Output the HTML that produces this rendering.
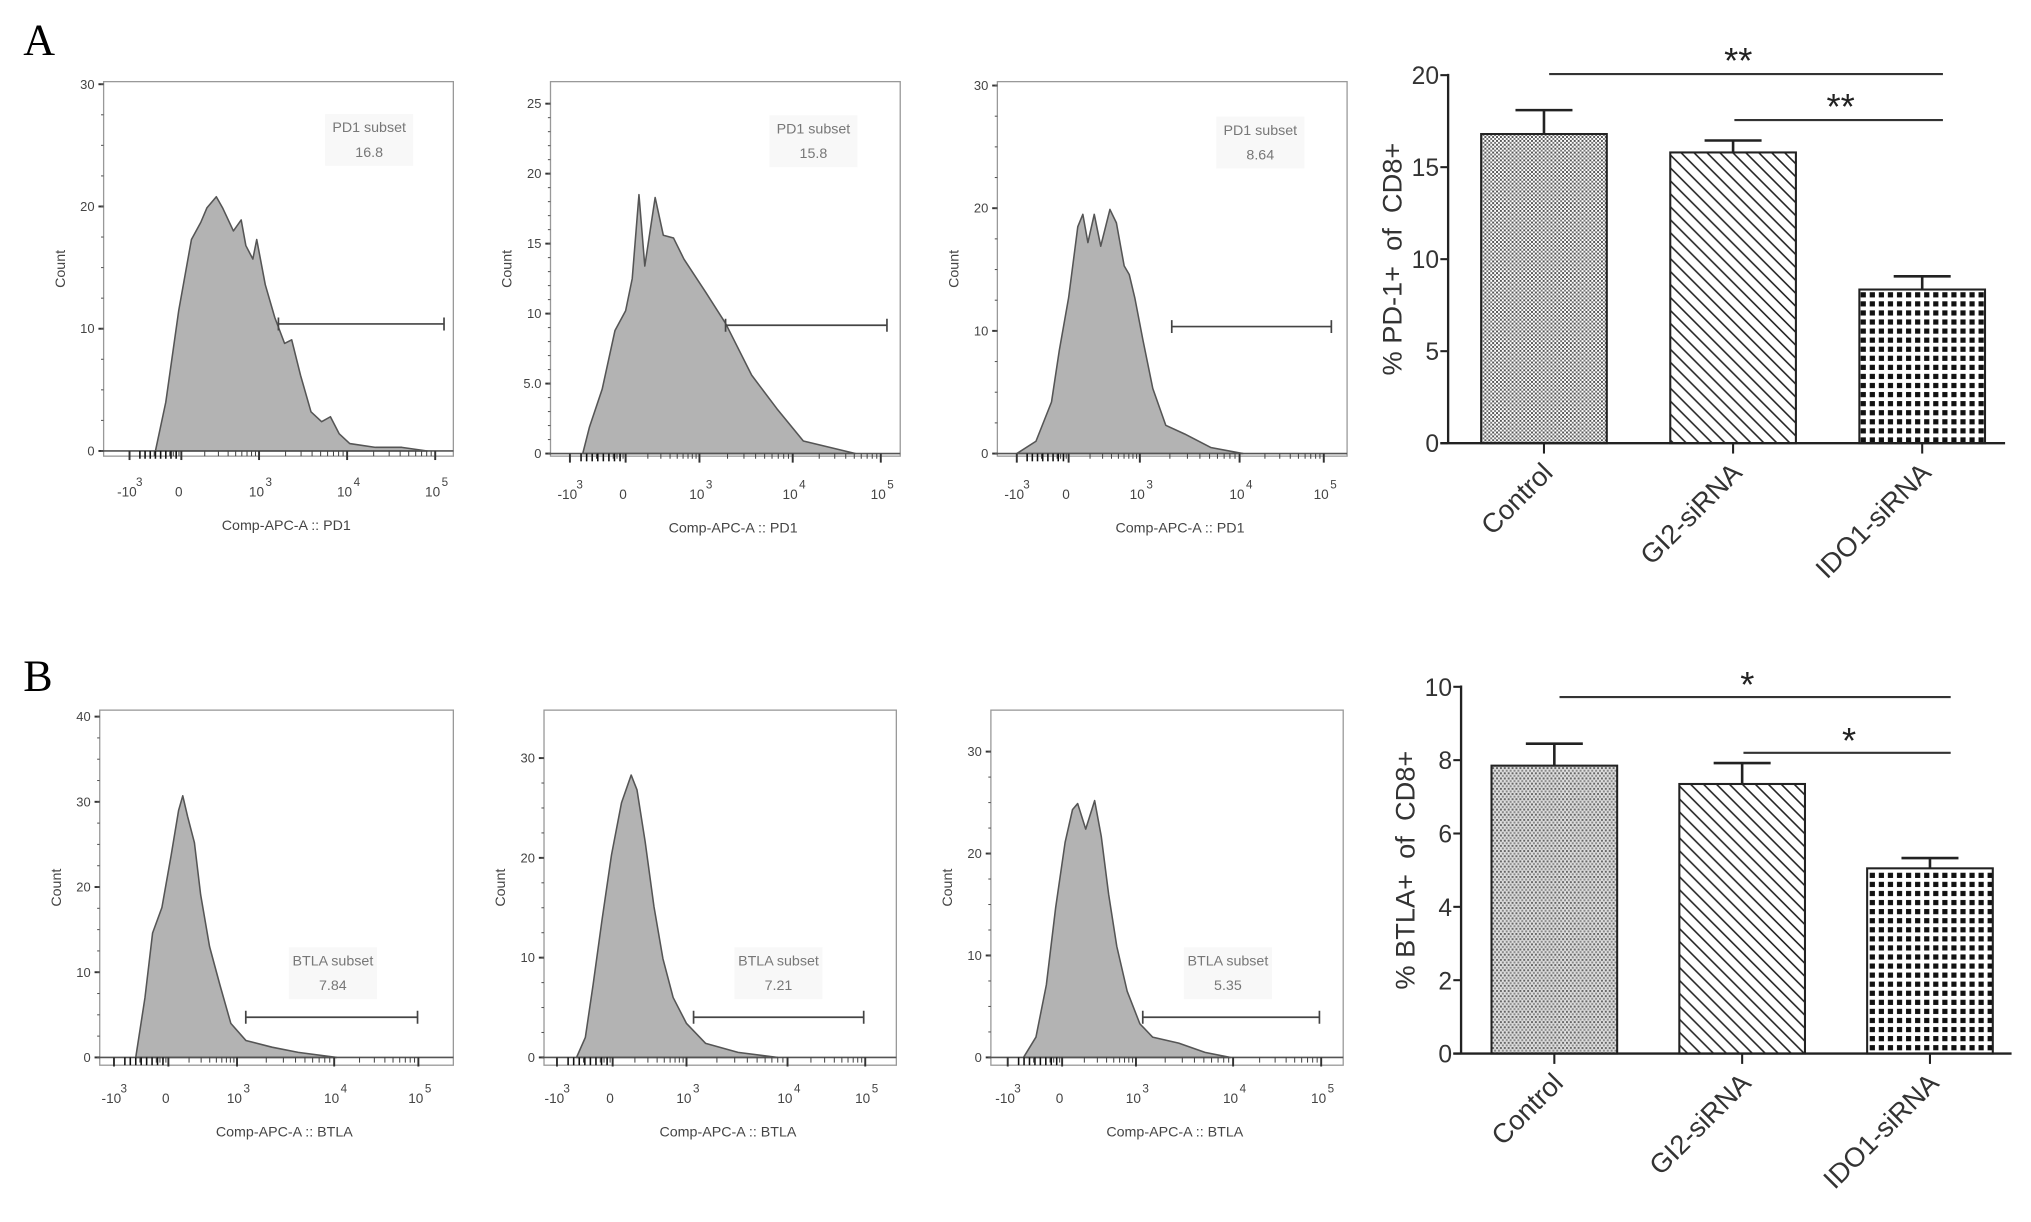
<!DOCTYPE html>
<html><head><meta charset="utf-8">
<style>
html,body{margin:0;padding:0;background:#fff;}
svg{display:block;}
text{font-family:"Liberation Sans",Arial,sans-serif;}
</style></head>
<body>
<svg id="fig" xmlns="http://www.w3.org/2000/svg" width="2031" height="1222" viewBox="0 0 1568 943" preserveAspectRatio="none">
<defs>
<pattern id="patFine" width="3" height="3" patternUnits="userSpaceOnUse"><rect width="3" height="3" fill="#fff"/><rect width="1.5" height="1.5" fill="#555"/><rect x="1.5" y="1.5" width="1.5" height="1.5" fill="#777"/></pattern>
<pattern id="patDiag" width="10" height="10" patternUnits="userSpaceOnUse"><rect width="10" height="10" fill="#fff"/><path d="M-2,-2 L12,12 M-2,8 L2,12 M8,-2 L12,2" stroke="#222" stroke-width="1.2"/></pattern>
<pattern id="patDots" width="7" height="7" patternUnits="userSpaceOnUse"><rect width="7" height="7" fill="#fff"/><rect x="1.5" y="1.5" width="4" height="4" fill="#111"/></pattern>
<pattern id="patStripe" width="3" height="4" patternUnits="userSpaceOnUse"><rect width="3" height="4" fill="#ddd"/><rect width="1.5" height="1.5" fill="#666"/><rect x="1.5" y="2" width="1.5" height="1.5" fill="#888"/></pattern>
</defs>
<text x="18" y="42" font-size="34" style="font-family:'Liberation Serif',serif">A</text>
<text x="18" y="533" font-size="34" style="font-family:'Liberation Serif',serif">B</text>
</svg>
<script>
// ---------- histogram data (u: axis units, -1=-10^3, 0=0, 1=10^3, 2=10^4, 3=10^5) ----------
const p1U=[-0.5,-0.3,-0.05,0.13,0.25,0.33,0.45,0.53,0.67,0.77,0.83,0.92,0.97,1.07,1.18,1.29,1.37,1.47,1.59,1.71,1.81,1.91,2.03,2.32,2.62,2.91];
const p1C=[0,4,11.5,17.3,18.7,19.9,20.8,19.9,18,18.9,16.8,15.7,17.3,13.6,10.9,8.8,9.1,6.2,3.2,2.4,2.8,1.4,0.6,0.3,0.3,0];
const p2U=[-0.77,-0.65,-0.42,-0.19,0,0.09,0.18,0.26,0.4,0.51,0.65,0.79,1.07,1.28,1.56,1.83,2.12,2.71];
const p2C=[0,1.9,4.6,8.8,10.2,12.5,18.5,13.4,18.3,15.6,15.4,13.9,11.5,9.3,5.6,3.2,0.9,0];
const p3U=[-1,-0.63,-0.33,-0.18,0,0.13,0.2,0.27,0.36,0.45,0.58,0.67,0.78,0.85,0.93,1.03,1.13,1.26,1.45,1.71,2.04];
const p3C=[0,1,4.2,8.4,12.7,18.5,19.5,17.2,19.5,16.9,19.9,18.8,15.3,14.6,12.7,9.3,5.3,2.3,1.6,0.5,0];
const b1U=[-0.6,-0.43,-0.29,-0.12,0.04,0.15,0.21,0.28,0.38,0.47,0.6,0.75,0.91,1.09,1.36,1.63,2.03];
const b1C=[0,7,14.6,17.6,23.7,29,30.7,28.3,25.2,19.1,13,8.5,4,2,1.2,0.6,0];
const b2U=[-0.65,-0.49,-0.35,-0.19,-0.02,0.12,0.25,0.33,0.44,0.56,0.68,0.82,1,1.19,1.51,1.9];
const b2C=[0,2,7.3,13.8,20.3,25.5,28.3,26.8,21.6,15.1,9.9,6,3.4,1.4,0.5,0];
const b3U=[-0.71,-0.48,-0.29,-0.12,0.04,0.14,0.21,0.32,0.44,0.53,0.63,0.74,0.88,1.04,1.17,1.44,1.71,1.97];
const b3C=[0,2,7.1,14.7,21.1,24.3,24.9,22.4,25.2,21.7,16,10.9,6.5,3.3,2,1.4,0.5,0];
const gateLabels=["PD1 subset","PD1 subset","PD1 subset","BTLA subset","BTLA subset","BTLA subset"];
const gateValues=["16.8","15.8","8.64","7.84","7.21","5.35"];
const gateStartU=[1.22,1.28,1.32,1.09,1.07,1.07];
const gateEndU=[3.1,3.07,3.09,2.99,2.98,2.98];
const yTicksP1=[0,10,20,30], yLabP1=["0","10","20","30"];
const yTicksP2=[0,5,10,15,20,25], yLabP2=["0","5.0","10","15","20","25"];
const yTicksB1=[0,10,20,30,40], yLabB1=["0","10","20","30","40"];
const yTicksB23=[0,10,20,30], yLabB23=["0","10","20","30"];
const xTickU=[-1,0,1,2,3];
const xTickBase=["-10","0","10","10","10"], xTickExp=["3","","3","4","5"];

// ---------- bar data ----------
const categories=["Control","GI2-siRNA","IDO1-siRNA"];
const pdValues=[16.8,15.8,8.35], pdErr=[1.3,0.65,0.72];
const btValues=[7.85,7.35,5.05], btErr=[0.6,0.57,0.28];
const pdTicks=[0,5,10,15,20], btTicks=[0,2,4,6,8,10];
const pdSig=[{a:0,b:2,v:20.06,lab:"**"},{a:1,b:2,v:17.56,lab:"**"}];
const btSig=[{a:0,b:2,v:9.72,lab:"*"},{a:1,b:2,v:8.2,lab:"*"}];

const svg=document.getElementById('fig');
const NS="http://www.w3.org/2000/svg";
function mk(tag,attrs,parent){const e=document.createElementNS(NS,tag);for(const k in attrs)e.setAttribute(k,attrs[k]);(parent||svg).appendChild(e);return e;}

function hist(o,idx){
  const g=mk('g',{});
  
  
  const ys=v=>o.y0+(o.yTop-o.y0)*v/o.yMax;
  const xs=u=>{if(u<=-1)return o.xt[0]+(u+1)*(o.xt[1]-o.xt[0]);for(let i=0;i<4;i++){if(u<=i)return o.xt[i]+(u-(i-1))*(o.xt[i+1]-o.xt[i]);}return o.xt[4]+(u-3)*(o.xt[4]-o.xt[3]);};
  const box=mk('rect',{x:o.bx0,y:o.by0,width:o.bx1-o.bx0,height:o.by1-o.by0,fill:'none',stroke:'#999','stroke-width':1},g);
  
  let d=`M${xs(o.U[0])},${o.y0}`;
  o.U.forEach((u,i)=>{d+=` L${xs(u).toFixed(1)},${ys(o.C[i]).toFixed(1)}`;});
  d+=` L${xs(o.U[o.U.length-1])},${o.y0} Z`;
  const c=mk('path',{d:d,fill:'#b3b3b3',stroke:'#555','stroke-width':1.2,'stroke-linejoin':'round'},g);
  
  mk('line',{x1:o.bx0,x2:o.bx1,y1:o.y0,y2:o.y0,stroke:'#555','stroke-width':1.3},g);
  o.yt.forEach((v,i)=>{const y=ys(v);mk('line',{x1:o.bx0-4,x2:o.bx0,y1:y,y2:y,stroke:'#333','stroke-width':1.5},g);
    const t=mk('text',{x:o.bx0-7,y:y+3.5,'font-size':10,'text-anchor':'end',fill:'#444'},g);t.textContent=o.yl[i];
    });
  for(let v=0;v<=o.yMax;v+=o.yMinor){const y=ys(v);if(y<o.by0)break;mk('line',{x1:o.bx0-2,x2:o.bx0,y1:y,y2:y,stroke:'#555','stroke-width':0.8},g);}
  const ct=mk('text',{x:0,y:0,'font-size':11,'text-anchor':'middle',fill:'#444',transform:`translate(${o.bx0-30},${(o.by0+o.by1)/2}) rotate(-90)`},g);ct.textContent='Count';
  
  xTickU.forEach((u,i)=>{const x=xs(u);mk('line',{x1:x,x2:x,y1:o.y0,y2:o.y0+7,stroke:'#333','stroke-width':1.5},g);
    const t=mk('text',{x:x-2,y:o.y0+35,'font-size':10.5,'text-anchor':'middle',fill:'#444'},g);t.textContent=xTickBase[i];
    
    if(xTickExp[i]){const e=mk('text',{x:x+5,y:o.y0+27,'font-size':9,fill:'#444'},g);e.textContent=xTickExp[i];}});
  for(let u=-1;u<3;u++){for(let k=2;k<10;k++){const x=xs(u+Math.log10(k));mk('line',{x1:x,x2:x,y1:o.y0,y2:o.y0+4,stroke:'#444','stroke-width':0.8},g);}}
  for(let k=1;k<=8;k++){const x=xs(-k*0.1);mk('line',{x1:x,x2:x,y1:o.y0,y2:o.y0+6,stroke:'#111','stroke-width':1.2},g);}
  const xt=mk('text',{x:(o.bx0+o.bx1)/2+6,y:o.y0+61,'font-size':11,'text-anchor':'middle',fill:'#444'},g);xt.textContent=o.xtitle;
  
  const gx0=xs(gateStartU[idx]),gx1=xs(gateEndU[idx]),gy=o.gy;
  const gl=mk('path',{d:`M${gx0},${gy} L${gx1},${gy} M${gx0},${gy-5} L${gx0},${gy+5} M${gx1},${gy-5} L${gx1},${gy+5}`,stroke:'#444','stroke-width':1.3,fill:'none'},g);
  
  mk('rect',{x:o.lx-34,y:o.ly-14,width:68,height:40,fill:'#f8f8f8'},g);
  const l1=mk('text',{x:o.lx,y:o.ly,'font-size':11,'text-anchor':'middle',fill:'#777'},g);l1.textContent=gateLabels[idx];
  
  const l2=mk('text',{x:o.lx,y:o.ly+19,'font-size':11,'text-anchor':'middle',fill:'#777'},g);l2.textContent=gateValues[idx];
  
}

hist({name:'pd1-histogram-control',bx0:80,bx1:350,by0:63,by1:352,y0:348,yTop:65,yMax:30,yt:yTicksP1,yl:yLabP1,yMinor:2.5,U:p1U,C:p1C,xt:[100,140,200,268,336],xtitle:'Comp-APC-A :: PD1',gy:250,lx:285,ly:102},0);
hist({name:'pd1-histogram-gi2',bx0:425,bx1:695,by0:63,by1:352,y0:350,yTop:80,yMax:25,yt:yTicksP2,yl:yLabP2,yMinor:1,U:p2U,C:p2C,xt:[440,483,540,612,680],xtitle:'Comp-APC-A :: PD1',gy:251,lx:628,ly:103},1);
hist({name:'pd1-histogram-ido1',bx0:770,bx1:1040,by0:63,by1:352,y0:350,yTop:66,yMax:30,yt:yTicksP1,yl:yLabP1,yMinor:2.5,U:p3U,C:p3C,xt:[785,825,880,957,1022],xtitle:'Comp-APC-A :: PD1',gy:252,lx:973,ly:104},2);
hist({name:'btla-histogram-control',bx0:77,bx1:350,by0:548,by1:822,y0:816,yTop:553,yMax:40,yt:yTicksB1,yl:yLabB1,yMinor:2.5,U:b1U,C:b1C,xt:[88,130,183,258,323],xtitle:'Comp-APC-A :: BTLA',gy:785,lx:257,ly:745},3);
hist({name:'btla-histogram-gi2',bx0:420,bx1:692,by0:548,by1:822,y0:816,yTop:585,yMax:30,yt:yTicksB23,yl:yLabB23,yMinor:2.5,U:b2U,C:b2C,xt:[430,473,530,608,668],xtitle:'Comp-APC-A :: BTLA',gy:785,lx:601,ly:745},4);
hist({name:'btla-histogram-ido1',bx0:765,bx1:1037,by0:548,by1:822,y0:816,yTop:580,yMax:30,yt:yTicksB23,yl:yLabB23,yMinor:2.5,U:b3U,C:b3C,xt:[778,820,877,952,1020],xtitle:'Comp-APC-A :: BTLA',gy:785,lx:948,ly:745},5);

function bars(o){
  const g=mk('g',{});
  
  
  const ys=v=>o.y0+(o.yTop-o.y0)*v/o.yMax;
  const bw=o.bw;
  o.ticks.forEach(v=>{const y=ys(v);mk('line',{x1:o.ax-6,x2:o.ax,y1:y,y2:y,stroke:'#222','stroke-width':1.6},g);
    const t=mk('text',{x:o.ax-7,y:y+7,'font-size':19,'text-anchor':'end',fill:'#333'},g);t.textContent=String(v);
    });
  o.vals.forEach((v,i)=>{
    const cx=o.cx[i];
    const r=mk('rect',{x:cx-bw/2,y:ys(v),width:bw,height:o.y0-ys(v),fill:`url(#${o.pats[i]})`,stroke:'#222','stroke-width':1.6},g);
    
    const e=mk('path',{d:`M${cx},${ys(v)} L${cx},${ys(v+o.err[i])} M${cx-22},${ys(v+o.err[i])} L${cx+22},${ys(v+o.err[i])}`,stroke:'#222','stroke-width':2,fill:'none'},g);
    
    mk('line',{x1:cx,x2:cx,y1:o.y0,y2:o.y0+8,stroke:'#222','stroke-width':1.6},g);
    const t=mk('text',{x:cx+8,y:o.y0+24,'font-size':21,'text-anchor':'end',fill:'#333',transform:`rotate(-45 ${cx+8} ${o.y0+24})`},g);t.textContent=categories[i];
    
  });
  mk('line',{x1:o.ax,x2:o.ax,y1:o.yTop-1,y2:o.y0,stroke:'#222','stroke-width':1.8},g);
  mk('line',{x1:o.ax-6,x2:o.axEnd,y1:o.y0,y2:o.y0,stroke:'#222','stroke-width':1.8},g);
  o.sig.forEach(s=>{const y=ys(s.v);const x0=o.cx[s.a]+4,x1=o.cx[s.b]+4;
    const ln=mk('line',{x1:s.a===0?x0:o.cx[s.a]+1,x2:x1+12,y1:y,y2:y,stroke:'#333','stroke-width':1.6},g);
    
    const t=mk('text',{x:(s.a===0?(x0+x1)/2:(o.cx[s.a]+x1)/2+8),y:y+(s.lab.length>1?-1:0),'font-size':28,'text-anchor':'middle',fill:'#222'},g);t.textContent=s.lab;
    });
  const yt=mk('text',{x:0,y:0,'font-size':21,'text-anchor':'middle',fill:'#333',transform:`translate(${o.ax-36},${(o.y0+o.yTop)/2}) rotate(-90)`},g);
  yt.textContent=o.ytitle;yt.style.whiteSpace='pre';
  
}
bars({name:'pd1-bar-chart',ax:1118,axEnd:1548,y0:342,yTop:58,yMax:20,ticks:pdTicks,vals:pdValues,err:pdErr,cx:[1192,1338,1484],bw:97,pats:['patFine','patDiag','patDots'],sig:pdSig,ytitle:'% PD-1+  of  CD8+'});
bars({name:'btla-bar-chart',ax:1128,axEnd:1553,y0:813,yTop:530,yMax:10,ticks:btTicks,vals:btValues,err:btErr,cx:[1200,1345,1490],bw:97,pats:['patStripe','patDiag','patDots'],sig:btSig,ytitle:'% BTLA+  of  CD8+'});
</script>
</body></html>
